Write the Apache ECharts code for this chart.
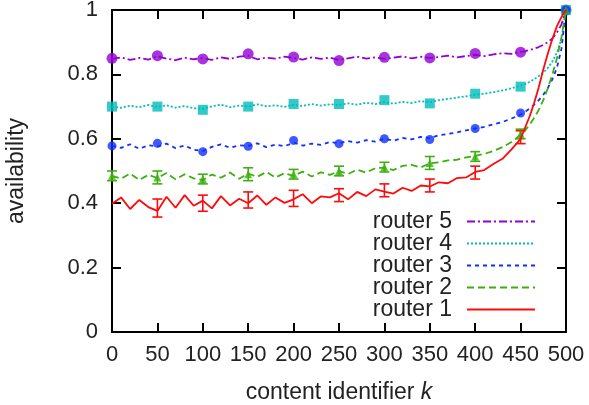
<!DOCTYPE html>
<html>
<head>
<meta charset="utf-8">
<script src="https://cdn.jsdelivr.net/npm/echarts@6/dist/echarts.min.js"></script>
<style>
  html, body { margin: 0; padding: 0; background: #fff; }
  #chart { width: 589px; height: 405px; }
</style>
</head>
<body>
<div id="chart"></div>
<script>
// content identifier k (every 10, then every 5 near the end)
var kVals = [0,10,20,30,40,50,60,70,80,90,100,110,120,130,140,150,160,170,180,190,200,
  210,220,230,240,250,260,270,280,290,300,310,320,330,340,350,360,370,380,390,400,
  410,420,430,440,450,455,460,465,470,475,480,485,490,495,500];

var router5 = [0.848,0.853,0.845,0.851,0.846,0.856,0.849,0.844,0.852,0.847,0.851,
  0.845,0.853,0.848,0.855,0.858,0.847,0.852,0.849,0.855,0.851,
  0.846,0.853,0.848,0.852,0.845,0.850,0.855,0.849,0.853,0.848,
  0.852,0.856,0.850,0.855,0.851,0.854,0.858,0.853,0.857,0.861,
  0.857,0.862,0.866,0.864,0.870,0.872,0.876,0.880,0.885,0.892,0.900,0.912,0.930,0.955,1.0];
var router4 = [0.700,0.696,0.703,0.698,0.705,0.699,0.704,0.697,0.702,0.695,0.693,
  0.701,0.706,0.698,0.703,0.700,0.707,0.701,0.704,0.699,0.706,
  0.702,0.708,0.703,0.707,0.705,0.710,0.706,0.712,0.708,0.714,
  0.709,0.715,0.711,0.717,0.713,0.720,0.724,0.728,0.732,0.737,
  0.740,0.745,0.750,0.757,0.765,0.770,0.777,0.785,0.795,0.806,0.820,0.840,0.868,0.910,1.0];
var router3 = [0.578,0.572,0.583,0.569,0.580,0.576,0.585,0.571,0.579,0.566,0.562,
  0.575,0.583,0.572,0.580,0.578,0.586,0.574,0.582,0.577,0.588,
  0.579,0.585,0.581,0.590,0.586,0.593,0.588,0.596,0.591,0.600,
  0.594,0.603,0.598,0.606,0.602,0.611,0.615,0.620,0.626,0.632,
  0.637,0.645,0.652,0.663,0.675,0.684,0.694,0.706,0.720,0.737,0.758,0.785,0.820,0.880,1.0];
var router2 = [0.485,0.476,0.492,0.472,0.488,0.478,0.494,0.474,0.490,0.477,0.472,
  0.489,0.479,0.495,0.476,0.492,0.482,0.497,0.480,0.493,0.485,
  0.498,0.483,0.496,0.488,0.500,0.491,0.504,0.495,0.509,0.510,
  0.503,0.516,0.519,0.511,0.524,0.527,0.533,0.535,0.542,0.547,
  0.553,0.562,0.574,0.590,0.612,0.626,0.644,0.665,0.690,0.720,0.757,0.800,0.850,0.915,1.0];
var router1 = [0.398,0.418,0.382,0.410,0.388,0.376,0.420,0.386,0.425,0.392,0.408,
  0.384,0.422,0.393,0.414,0.400,0.424,0.395,0.418,0.401,0.412,
  0.428,0.400,0.421,0.418,0.431,0.412,0.435,0.422,0.443,0.436,
  0.430,0.448,0.438,0.455,0.452,0.465,0.462,0.478,0.480,0.497,
  0.503,0.522,0.538,0.567,0.600,0.635,0.670,0.712,0.760,0.815,0.865,0.910,0.950,0.978,1.0];

// sampled points with markers (every 50)
var markK = [0,50,100,150,200,250,300,350,400,450,500];
var mark5 = [0.850,0.858,0.848,0.864,0.854,0.843,0.853,0.851,0.865,0.869,1.0];
var mark4 = [0.700,0.700,0.690,0.700,0.708,0.708,0.720,0.710,0.740,0.762,1.0];
var mark3 = [0.578,0.586,0.560,0.577,0.595,0.585,0.600,0.598,0.632,0.680,1.0];
var mark2 = [0.485,0.480,0.475,0.490,0.490,0.500,0.512,0.525,0.545,0.615,1.0];
var err2 = [0.015,0.02,0.015,0.02,0.015,0.015,0.015,0.02,0.015,0.015,0];

var barK = [50,100,150,200,250,300,350,400,450];
var bar1 = [0.385,0.400,0.410,0.415,0.425,0.440,0.455,0.495,0.605];
var err1 = [0.028,0.025,0.025,0.025,0.02,0.02,0.02,0.02,0.02];

var xTicks = { min: 0, max: 500, interval: 50 };
var yTicks = { min: 0, max: 1, interval: 0.2 };

var colors = {
  r5: '#9400d3',
  r4: '#00bcbc',
  r3: '#1030ff',
  r2: '#3cb00e',
  r1: '#ff0a0a'
};

function pairs(xs, ys) {
  return xs.map(function (x, i) { return [x, ys[i]]; });
}

function lineSeries(name, ys, color, dash) {
  return {
    name: name,
    type: 'line',
    data: pairs(kVals, ys),
    symbol: 'none',
    silent: true,
    animation: false,
    lineStyle: { color: color, width: 1.8, type: dash },
    itemStyle: { color: color }
  };
}

function markSeries(ys, color, symbol, size) {
  return {
    type: 'scatter',
    data: pairs(markK, ys),
    symbol: symbol,
    symbolSize: size,
    silent: true,
    animation: false,
    itemStyle: { color: color }
  };
}

function errSeries(xs, ys, errs, color) {
  return {
    type: 'custom',
    silent: true,
    animation: false,
    data: xs.map(function (x, i) { return [x, ys[i] - errs[i], ys[i] + errs[i]]; }),
    renderItem: function (params, api) {
      var lo = api.coord([api.value(0), api.value(1)]);
      var hi = api.coord([api.value(0), api.value(2)]);
      var w = 5;
      var st = { stroke: color, lineWidth: 1.6 };
      return {
        type: 'group',
        children: [
          { type: 'line', shape: { x1: lo[0], y1: lo[1], x2: hi[0], y2: hi[1] }, style: st },
          { type: 'line', shape: { x1: lo[0] - w, y1: lo[1], x2: lo[0] + w, y2: lo[1] }, style: st },
          { type: 'line', shape: { x1: hi[0] - w, y1: hi[1], x2: hi[0] + w, y2: hi[1] }, style: st }
        ]
      };
    }
  };
}

var font = 'Liberation Sans, Arial, sans-serif';
var axisCommon = {
  type: 'value',
  axisLine: { show: true, onZero: false, lineStyle: { color: '#000', width: 2 } },
  axisTick: { show: true, inside: true, length: 9, lineStyle: { color: '#000', width: 2 } },
  splitLine: { show: false }
};

var chart = echarts.init(document.getElementById('chart'));
chart.setOption({
  animation: false,
  textStyle: { fontFamily: font },
  grid: { left: 112, right: 23, top: 10, bottom: 73, outerBoundsMode: 'none' },
  legend: {
    orient: 'vertical',
    right: 48,
    top: 205,
    align: 'right',
    itemWidth: 68,
    itemHeight: 14,
    itemGap: -1,
    selectedMode: false,
    itemStyle: { opacity: 0 },
    textStyle: { fontSize: 23, lineHeight: 23, color: '#222', fontFamily: font, padding: [0, 10, 0, 0] },
    data: ['router 5', 'router 4', 'router 3', 'router 2', 'router 1']
  },
  xAxis: [
    Object.assign({}, axisCommon, xTicks, {
      position: 'bottom',
      name: 'content identifier {i|k}',
      nameLocation: 'middle',
      nameGap: 49,
      nameTextStyle: {
        fontSize: 23, color: '#222', fontFamily: font,
        rich: { i: { fontSize: 23, color: '#222', fontStyle: 'italic', fontFamily: font } }
      },
      axisLabel: { fontSize: 22, color: '#222', margin: 12, fontFamily: font }
    }),
    Object.assign({}, axisCommon, xTicks, {
      position: 'top',
      axisLabel: { show: false }
    })
  ],
  yAxis: [
    Object.assign({}, axisCommon, yTicks, {
      position: 'left',
      name: 'availability',
      nameLocation: 'middle',
      nameRotate: 90,
      nameGap: 84,
      nameTextStyle: { fontSize: 23, color: '#222', fontFamily: font },
      axisLabel: { fontSize: 22, color: '#222', margin: 14, fontFamily: font }
    }),
    Object.assign({}, axisCommon, yTicks, {
      position: 'right',
      axisLabel: { show: false }
    })
  ],
  series: [
    lineSeries('router 5', router5, colors.r5, [8, 3, 2, 3]),
    lineSeries('router 4', router4, colors.r4, [2, 2]),
    lineSeries('router 3', router3, colors.r3, [4, 4]),
    lineSeries('router 2', router2, colors.r2, [7, 4]),
    lineSeries('router 1', router1, colors.r1, 'solid'),
    markSeries(mark5, colors.r5, 'circle', 11),
    markSeries(mark4, colors.r4, 'rect', 10),
    markSeries(mark3, colors.r3, 'circle', 9),
    errSeries(markK, mark2, err2, colors.r2),
    markSeries(mark2, colors.r2, 'triangle', 8),
    errSeries(barK, bar1, err1, colors.r1)
  ]
});
</script>
</body>
</html>
